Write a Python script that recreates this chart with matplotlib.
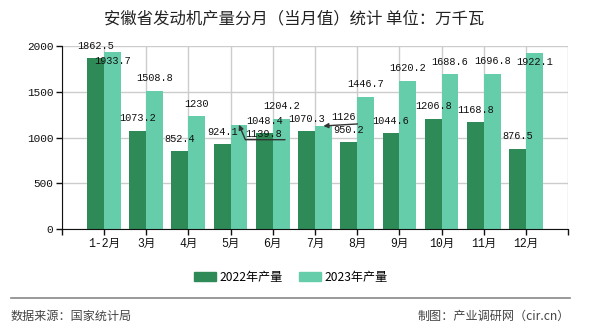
"""
Anhui engine output by month, 2022 vs 2023 (unit: 10k kW)
"""

import numpy as np
import matplotlib
matplotlib.use('Agg')
import matplotlib.pyplot as plt
from matplotlib.patches import Patch
from matplotlib.lines import Line2D

### data ###
months = ['1-2月', '3月', '4月', '5月', '6月', '7月', '8月', '9月', '10月', '11月', '12月']
output_2022 = [1862.5, 1073.2, 852.4, 924.1, 1048.4, 1070.3, 950.2, 1044.6, 1206.8, 1168.8, 876.5]
output_2023 = [1933.7, 1508.8, 1230, 1139.8, 1204.2, 1126, 1446.7, 1620.2, 1688.6, 1696.8, 1922.1]
yticks = [0, 500, 1000, 1500, 2000]

title = '安徽省发动机产量分月（当月值）统计 单位：万千瓦'
series_names = ['2022年产量', '2023年产量']
source_text = '数据来源：国家统计局'
credit_text = '制图：产业调研网（cir.cn）'

dark = '#2E8B57'
light = '#66CDAA'
cjk = ['Noto Sans CJK SC', 'DejaVu Sans']
mono = ['Liberation Mono', 'Noto Sans CJK SC']

# label nudges (pixels) for the 2023 labels that got pushed around
moved_2023 = {0: (0, -9), 10: (0, -9), 3: (25, -9), 5: (20, 9)}


def label_bar(ax, x, v, dx=0, dy=12.5):
    ax.annotate('%g' % v, xy=(x, v), xytext=(dx, dy), textcoords='offset pixels',
                ha='center', va='center', fontsize=7.4, family=mono, color='#111111')


def main():
    fig = plt.figure(figsize=(5.9, 3.3), dpi=100)
    ax = fig.add_axes([0.1046, 0.305, 0.8585, 0.5565])

    x = np.arange(len(months))
    w = 0.4
    ax.bar(x - w/2, output_2022, w, color=dark, zorder=2)
    ax.bar(x + w/2, output_2023, w, color=light, zorder=2)

    for i in range(len(months)):
        label_bar(ax, x[i] - w/2, output_2022[i])
        if i in moved_2023:
            dx, dy = moved_2023[i]
            label_bar(ax, x[i] + w/2, output_2023[i], dx, dy)
        else:
            label_bar(ax, x[i] + w/2, output_2023[i])

    # leader lines for the two displaced labels
    ax.annotate('', xy=(x[3] + w/2, output_2023[3]), xytext=(46, -15), textcoords='offset pixels',
                arrowprops=dict(arrowstyle='-|>', color='#333333', lw=1, shrinkA=0, shrinkB=0,
                                mutation_scale=7,
                                connectionstyle='angle,angleA=0,angleB=113,rad=0'))
    ax.annotate('', xy=(x[5] + w/2, output_2023[5]), xytext=(34, 2), textcoords='offset pixels',
                arrowprops=dict(arrowstyle='-|>', color='#333333', lw=1, shrinkA=0, shrinkB=0,
                                mutation_scale=7))

    ax.set_xlim(-1, len(months))
    ax.set_ylim(0, 2000)
    ax.set_xticks(np.arange(-1, len(months) + 1))
    ax.set_xticklabels([''] + months + [''], family=mono, fontsize=8.3)
    ax.set_yticks(yticks)
    ax.set_yticklabels([str(t) for t in yticks], family=mono, fontsize=8)
    ax.tick_params(direction='out', length=4, width=1, colors='#111111', pad=2)
    ax.grid(True, color='#cccccc', lw=1, zorder=0)
    ax.set_axisbelow(True)
    for side in ['top', 'right']:
        ax.spines[side].set_visible(False)
    ax.spines['left'].set_color('#111111')
    ax.spines['bottom'].set_color('#111111')

    fig.text(0.499, 1 - 18.3/330, title, ha='center', va='center',
             fontsize=11.8, family=cjk, color='#222222')

    handles = [Patch(color=dark), Patch(color=light)]
    fig.legend(handles, series_names, loc='center', bbox_to_anchor=(291/590, 1 - 277/330),
               ncol=2, frameon=False, prop={'family': cjk, 'size': 8.7},
               handlelength=1.8, handleheight=0.75, handletextpad=0.35, columnspacing=1.3)

    fig.add_artist(Line2D([11/590, 570/590], [1 - 298.3/330] * 2, color='#888888', lw=1.2))
    fig.text(11/590, 1 - 316.7/330, source_text, ha='left', va='center',
             fontsize=8.7, family=cjk, color='#444444')
    fig.text(570/590, 1 - 316.7/330, credit_text, ha='right', va='center',
             fontsize=8.7, family=cjk, color='#444444')

    fig.savefig('out.png', dpi=100)


if __name__ == '__main__':
    main()

# -fin-
